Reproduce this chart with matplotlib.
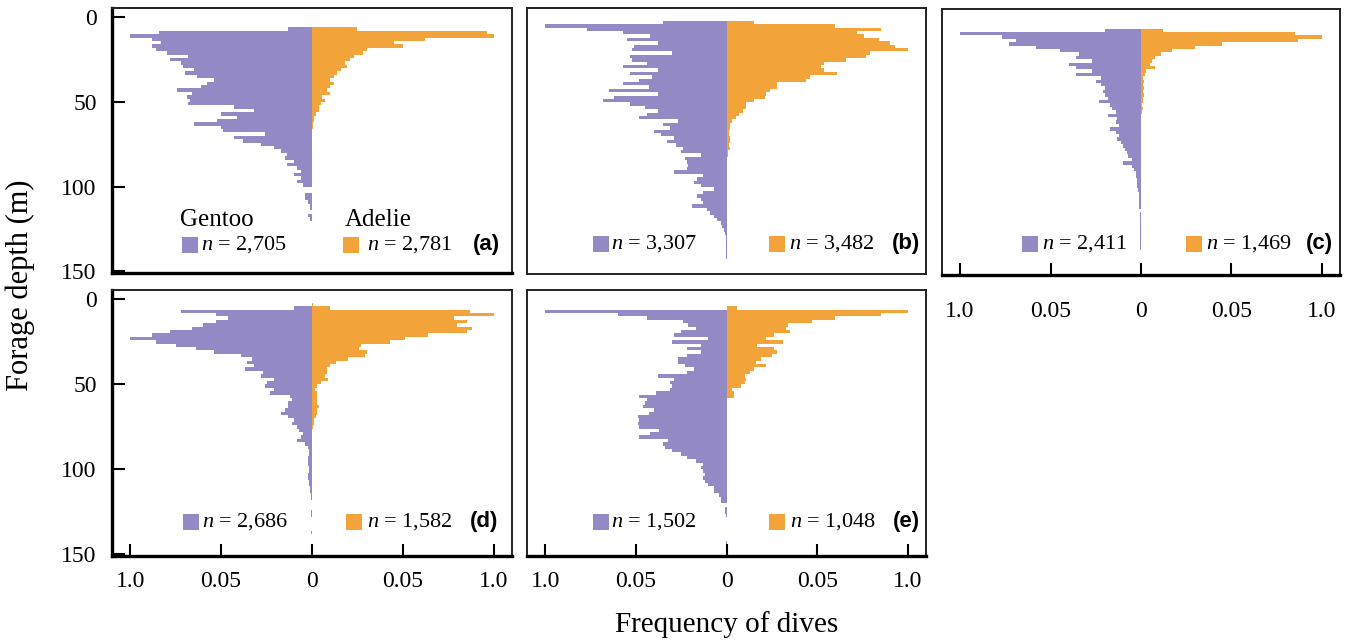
import numpy as np
import matplotlib
matplotlib.use("Agg")
import matplotlib.pyplot as plt
from matplotlib.patches import Rectangle

plt.rcParams['font.family'] = 'Liberation Serif'
plt.rcParams['mathtext.fontset'] = 'custom'
plt.rcParams['mathtext.it'] = 'Liberation Serif:italic'
plt.rcParams['mathtext.rm'] = 'Liberation Serif'

# depth bins (2 m wide), bin centres
depth = np.arange(1, 150, 2)

# relative dive frequency per depth bin (scaled to max = 1)
gentoo_a = [0, 0, 0, 0.13, 0.84, 1.0, 0.88, 0.83, 0.88, 0.86,
            0.80, 0.68, 0.78, 0.72, 0.71, 0.65, 0.70, 0.63, 0.54, 0.58,
            0.61, 0.74, 0.66, 0.69, 0.67, 0.68, 0.43, 0.32, 0.50, 0.41,
            0.52, 0.65, 0.50, 0.49, 0.26, 0.43, 0.38, 0.28, 0.21, 0.17,
            0.14, 0.15, 0.10, 0.14, 0.08, 0.06, 0.10, 0.06, 0.08, 0.05,
            0, 0, 0.04, 0.04, 0.02, 0.01, 0.01, 0, 0.02, 0.01]
adelie_a = [0, 0, 0, 0.25, 0.96, 1.0, 0.62, 0.45, 0.50, 0.30,
            0.28, 0.23, 0.21, 0.18, 0.19, 0.16, 0.14, 0.12, 0.10, 0.12,
            0.10, 0.08, 0.10, 0.055, 0.07, 0.05, 0.04, 0.04, 0.02, 0.01,
            0.01, 0.005, 0.005]

gentoo_b = [0, 0.35, 1.0, 0.77, 0.57, 0.42, 0.55, 0.38, 0.51, 0.52,
            0.30, 0.53, 0.52, 0.44, 0.57, 0.38, 0.53, 0.41, 0.48, 0.57,
            0.43, 0.65, 0.38, 0.62, 0.68, 0.53, 0.45, 0.38, 0.44, 0.48,
            0.27, 0.35, 0.31, 0.40, 0.36, 0.29, 0.33, 0.28, 0.24, 0.25,
            0.14, 0.23, 0.22, 0.21, 0.22, 0.29, 0.13, 0.16, 0.18, 0.14,
            0.07, 0.13, 0.16, 0.14, 0.13, 0.19, 0.11, 0.09, 0.07, 0.05,
            0.03, 0.024, 0.015, 0.008, 0.005, 0.005, 0.005, 0.005, 0.005, 0.005,
            0.005]
adelie_b = [0, 0.15, 0.6, 0.85, 0.72, 0.76, 0.84, 0.90, 0.93, 1.0,
            0.79, 0.77, 0.66, 0.54, 0.52, 0.54, 0.61, 0.46, 0.44, 0.28,
            0.28, 0.24, 0.22, 0.21, 0.15, 0.11, 0.11, 0.09, 0.07, 0.05,
            0.03, 0.02, 0.02, 0.013, 0.013, 0.018, 0.02, 0.013, 0.018, 0.008,
            0.008, 0.004]

gentoo_c = [0, 0, 0, 0.2, 1.0, 0.77, 0.69, 0.73, 0.58, 0.45,
            0.34, 0.36, 0.27, 0.40, 0.36, 0.27, 0.36, 0.22, 0.25, 0.22,
            0.20, 0.21, 0.20, 0.18, 0.23, 0.17, 0.16, 0.14, 0.18, 0.13,
            0.14, 0.12, 0.17, 0.14, 0.12, 0.13, 0.11, 0.10, 0.09, 0.08,
            0.07, 0.05, 0.10, 0.05, 0.04, 0.03, 0.03, 0.02, 0.02, 0.02,
            0.015, 0.01, 0.01, 0.01, 0.01, 0.01, 0, 0.006, 0.004, 0.006,
            0.004, 0.006, 0.004, 0.006, 0.004, 0.006, 0.004, 0.004]
adelie_c = [0, 0, 0, 0.12, 0.85, 1.0, 0.87, 0.45, 0.30, 0.17,
            0.11, 0.08, 0.06, 0.05, 0.08, 0.03, 0.02, 0.013, 0.015, 0.01,
            0.018, 0.012, 0.015, 0.01, 0.012, 0.008, 0.01, 0.006]

gentoo_d = [0, 0, 0.1, 0.72, 0.53, 0.46, 0.53, 0.60, 0.66, 0.78,
            0.88, 1.0, 0.86, 0.75, 0.64, 0.54, 0.39, 0.33, 0.36, 0.32,
            0.37, 0.27, 0.28, 0.21, 0.245, 0.26, 0.21, 0.23, 0.12, 0.11,
            0.13, 0.13, 0.15, 0.17, 0.13, 0.10, 0.11, 0.08, 0.07, 0.05,
            0.06, 0.08, 0.04, 0.024, 0.015, 0.015, 0.02, 0.024, 0.02, 0.015,
            0.015, 0.024, 0.02, 0.015, 0.015, 0.01, 0.01, 0.006, 0.006, 0,
            0, 0, 0.004, 0.004, 0, 0, 0, 0, 0.004]
adelie_d = [0, 0.004, 0.1, 0.87, 1.0, 0.78, 0.85, 0.80, 0.88, 0.85,
            0.64, 0.51, 0.43, 0.27, 0.26, 0.30, 0.29, 0.20, 0.13, 0.10,
            0.08, 0.08, 0.07, 0.09, 0.05, 0.03, 0.015, 0.03, 0.03, 0.025,
            0.03, 0.04, 0.025, 0.03, 0.022, 0.013, 0.01, 0.005]

gentoo_e = [0, 0, 0, 1.0, 0.60, 0.44, 0.24, 0.21, 0.17, 0.25,
            0.29, 0.10, 0.30, 0.14, 0.22, 0.14, 0.22, 0.27, 0.27, 0.23,
            0.18, 0.22, 0.38, 0.29, 0.31, 0.30, 0.31, 0.39, 0.48, 0.44,
            0.45, 0.46, 0.40, 0.43, 0.49, 0.48, 0.49, 0.48, 0.37, 0.42,
            0.48, 0.32, 0.35, 0.34, 0.30, 0.25, 0.22, 0.17, 0.13, 0.14,
            0.13, 0.12, 0.13, 0.12, 0.10, 0.07, 0.07, 0.04, 0.03, 0.03,
            0, 0.01, 0.01, 0.005, 0, 0, 0, 0, 0, 0,
            0, 0.005]
adelie_e = [0, 0, 0.06, 1.0, 0.85, 0.6, 0.47, 0.34, 0.33, 0.35,
            0.26, 0.22, 0.31, 0.17, 0.26, 0.28, 0.25, 0.19, 0.16, 0.22,
            0.15, 0.13, 0.10, 0.11, 0.10, 0.08, 0.03, 0.04, 0.04]

n_gentoo = ["2,705", "3,307", "2,411", "2,686", "1,502"]
n_adelie = ["2,781", "3,482", "1,469", "1,582", "1,048"]
panel_tags = ["(a)", "(b)", "(c)", "(d)", "(e)"]

xticks = [-1, -0.5, 0, 0.5, 1]
xtick_labels = ["1.0", "0.05", "0", "0.05", "1.0"]
yticks = [0, 50, 100, 150]

PURPLE = '#9389C4'
ORANGE = '#F2A33A'

W, H = 1355, 644
fig = plt.figure(figsize=(W / 100, H / 100), dpi=100)


def rect(x0, y0, x1, y1):
    return [x0 / W, 1 - y1 / H, (x1 - x0) / W, (y1 - y0) / H]


# pixel boxes and legend layout (axes fractions) for each panel
panels = [
    dict(box=(112, 8, 512, 273), g=gentoo_a, a=adelie_a, leg=(0.175, 0.2225, 0.5775, 0.6375, 0.97, 0.106),
         ylab=True, xlab=False),
    dict(box=(527, 8, 926, 274), g=gentoo_b, a=adelie_b, leg=(0.165, 0.21, 0.607, 0.657, 0.985, 0.113),
         ylab=False, xlab=False),
    dict(box=(942, 9, 1340, 275), g=gentoo_c, a=adelie_c, leg=(0.20, 0.251, 0.613, 0.663, 0.982, 0.117),
         ylab=False, xlab=True),
    dict(box=(112, 290, 512, 556), g=gentoo_d, a=adelie_d, leg=(0.1775, 0.225, 0.585, 0.6375, 0.965, 0.128),
         ylab=True, xlab=True),
    dict(box=(527, 290, 926, 556), g=gentoo_e, a=adelie_e, leg=(0.165, 0.21, 0.607, 0.66, 0.985, 0.128),
         ylab=False, xlab=True),
]

for i, p in enumerate(panels):
    ax = fig.add_axes(rect(*p['box']))
    g = np.array(p['g'])
    a = np.array(p['a'])
    ax.barh(depth[:len(g)], -g, height=2, color=PURPLE, linewidth=0)
    ax.barh(depth[:len(a)], a, height=2, color=ORANGE, linewidth=0)
    ax.set_xlim(-1.1, 1.1)
    ax.set_ylim(151, -5.5)

    for s in ax.spines.values():
        s.set_color('#222222')
        s.set_linewidth(1.4)

    if p['ylab']:
        ax.set_yticks(yticks)
        ax.set_yticklabels([str(t) for t in yticks], fontsize=17)
        ax.spines['left'].set_color('black')
        ax.spines['left'].set_linewidth(2.4)
        ax.spines['bottom'].set_color('black')
        ax.spines['bottom'].set_linewidth(2.4)
        ax.tick_params(axis='y', direction='in', length=9, width=1.5, pad=11)
    else:
        ax.set_yticks([])

    if p['xlab']:
        ax.set_xticks(xticks)
        ax.set_xticklabels(xtick_labels, fontsize=17)
        ax.spines['bottom'].set_color('black')
        ax.spines['bottom'].set_linewidth(2.4)
        pad = 19 if i == 2 else 11
        ax.tick_params(axis='x', direction='in', length=9, width=1.5, pad=pad)
    else:
        ax.set_xticks([])

    gx, gtx, ox, otx, tagx, ly = p['leg']
    bw = 16 / (p['box'][2] - p['box'][0])
    bh = 16 / (p['box'][3] - p['box'][1])
    ax.add_patch(Rectangle((gx, ly - bh / 2), bw, bh, transform=ax.transAxes, color=PURPLE, lw=0))
    ax.add_patch(Rectangle((ox, ly - bh / 2), bw, bh, transform=ax.transAxes, color=ORANGE, lw=0))
    ax.text(gtx, ly, f"$n$ = {n_gentoo[i]}", transform=ax.transAxes, fontsize=16, va='center', ha='left')
    ax.text(otx, ly, f"$n$ = {n_adelie[i]}", transform=ax.transAxes, fontsize=16, va='center', ha='left')
    ax.text(tagx, ly, panel_tags[i], transform=ax.transAxes, fontsize=16, va='center', ha='right',
            family='Liberation Sans', weight='bold')
    if i == 0:
        ax.text(gx - 0.005, 0.2, "Gentoo", transform=ax.transAxes, fontsize=18, va='center', ha='left')
        ax.text(ox + 0.005, 0.2, "Adelie", transform=ax.transAxes, fontsize=18, va='center', ha='left')

fig.text(20 / W, 1 - 285 / H, "Forage depth (m)", rotation=90, fontsize=22, ha='center', va='center')
fig.text(727 / W, 1 - 625 / H, "Frequency of dives", fontsize=21, ha='center', va='center')

fig.savefig("out.png", dpi=100)
